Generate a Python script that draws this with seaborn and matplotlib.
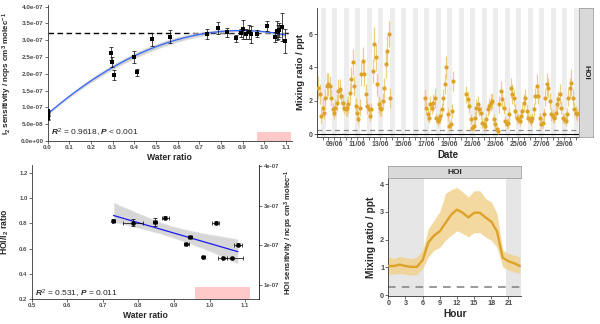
import numpy as np
import pandas as pd
import matplotlib
matplotlib.use("Agg")
import matplotlib.pyplot as plt
import matplotlib.dates as mdates
from matplotlib.ticker import FuncFormatter, MultipleLocator
from matplotlib.patches import Rectangle
import seaborn as sns

# ---------------- data ----------------
# (a) I2 sensitivity vs water ratio (units: ncps cm3 molec-1)
i2_water = [0.0, 0.0, 0.002, 0.0, 0.003, 0.292, 0.298, 0.305, 0.40, 0.414,
            0.48, 0.566, 0.737, 0.788, 0.83, 0.868, 0.892, 0.90, 0.918, 0.93,
            0.937, 0.965, 1.014, 1.05, 1.058, 1.065, 1.07, 1.083, 1.097]
i2_sens = [0.88, 0.84, 0.80, 0.72, 0.69, 2.61, 2.34, 1.97, 2.51, 2.05,
           3.03, 3.11, 3.19, 3.36, 3.24, 3.06, 3.23, 3.33, 3.20, 3.25,
           3.18, 3.20, 3.43, 3.10, 3.28, 3.24, 3.30, 3.40, 2.98]  # x 1e-7
i2_err = [0.05, 0.05, 0.05, 0.05, 0.05, 0.20, 0.15, 0.15, 0.18, 0.10,
          0.20, 0.20, 0.15, 0.18, 0.13, 0.10, 0.12, 0.28, 0.15, 0.20,
          0.25, 0.10, 0.15, 0.15, 0.28, 0.20, 0.20, 0.42, 0.35]  # x 1e-7
i2_plateau = 3.23e-7

# (c) HOI/I2 ratio vs water ratio
hoi_water = [0.73, 0.785, 0.846, 0.875, 0.935, 0.946, 0.982, 1.017, 1.037, 1.064, 1.08]
hoi_ratio = [0.82, 0.805, 0.81, 0.845, 0.637, 0.692, 0.532, 0.805, 0.524, 0.524, 0.631]
hoi_xerr = [0.004, 0.028, 0.006, 0.01, 0.008, 0.006, 0.004, 0.01, 0.012, 0.03, 0.01]
hoi_yerr = [0.012, 0.025, 0.03, 0.012, 0.01, 0.01, 0.008, 0.01, 0.008, 0.008, 0.012]

# (b) HOI time series, 3-hourly, three measurement periods
seg1_start = "2018-06-07 15:00"
seg1_hoi = [2.8, 2.4, 1.1,
            1.6, 1.3, 2.2, 2.9, 3.0, 2.9, 2.2, 1.5,
            1.3, 1.6, 1.9, 2.6, 2.7, 2.3, 1.9, 1.6,
            1.5, 1.6, 1.8, 2.5, 3.3, 4.3, 2.9, 1.7,
            1.3, 0.9, 1.6, 3.6, 4.4, 3.6, 2.4, 1.7,
            1.5, 1.1, 1.5, 3.8, 5.4, 4.6, 3.0, 1.8,
            1.6, 1.5, 2.0, 2.8, 4.2, 5.0, 6.0, 2.2]
seg1_err = [0.7, 0.6, 0.4,
            0.5, 0.4, 0.5, 0.8, 0.7, 0.6, 0.5, 0.4,
            0.4, 0.5, 0.5, 0.7, 0.6, 0.5, 0.5, 0.4,
            0.4, 0.5, 0.5, 0.6, 0.7, 0.8, 0.6, 0.5,
            0.4, 0.3, 0.5, 0.7, 0.8, 0.7, 0.6, 0.5,
            0.4, 0.3, 0.4, 0.7, 1.0, 0.8, 0.7, 0.5,
            0.5, 0.4, 0.5, 0.6, 0.8, 0.9, 0.8, 0.6]
seg2_start = "2018-06-16 21:00"
seg2_hoi = [2.2,
            1.6, 1.2, 1.0, 1.8, 1.6, 1.9, 2.2, 1.0,
            0.8, 0.9, 1.1, 1.5, 2.2, 3.0, 4.0, 1.2,
            0.5, 0.6, 1.4, 3.2]
seg2_err = [0.5,
            0.4, 0.4, 0.3, 0.5, 0.4, 0.5, 0.6, 0.3,
            0.3, 0.3, 0.4, 0.4, 0.5, 0.6, 0.7, 0.4,
            0.3, 0.3, 0.4, 0.6]
seg3_start = "2018-06-20 12:00"
seg3_hoi = [2.4, 2.1, 1.7, 0.9,
            0.4, 0.5, 1.0, 1.6, 1.8, 1.5, 1.3, 0.7,
            0.6, 0.5, 0.9, 1.5, 1.7, 1.9, 2.0, 0.9,
            0.6, 0.3, 0.2, 1.8, 2.6, 2.1, 1.6, 0.8,
            0.6, 0.7, 1.2, 2.8, 2.4, 2.2, 1.4, 1.0,
            0.9, 0.8, 1.1, 1.4, 1.9, 2.2, 1.4, 1.0,
            0.9, 0.8, 1.0, 1.5, 2.3, 2.9, 2.3, 1.0,
            0.6, 0.7, 1.2, 2.2, 3.0, 2.8, 2.0, 1.2,
            1.1, 1.0, 1.3, 1.8, 2.1, 2.4, 1.6, 1.0,
            0.9, 0.8, 1.2, 2.2, 2.8, 3.1, 2.2, 1.5,
            1.3, 1.2, 1.3]
seg3_err = [0.5, 0.5, 0.4, 0.3,
            0.2, 0.3, 0.4, 0.5, 0.5, 0.4, 0.4, 0.3,
            0.3, 0.3, 0.3, 0.4, 0.5, 0.5, 0.5, 0.3,
            0.3, 0.2, 0.2, 0.5, 0.6, 0.5, 0.4, 0.3,
            0.3, 0.3, 0.4, 0.6, 0.6, 0.5, 0.4, 0.3,
            0.3, 0.3, 0.4, 0.4, 0.5, 0.5, 0.4, 0.3,
            0.3, 0.3, 0.3, 0.4, 0.5, 0.7, 0.5, 0.3,
            0.3, 0.3, 0.4, 0.5, 0.7, 0.6, 0.5, 0.4,
            0.4, 0.3, 0.4, 0.5, 0.5, 0.6, 0.4, 0.3,
            0.3, 0.3, 0.4, 0.5, 0.6, 0.8, 0.5, 0.4,
            0.4, 0.4, 0.4]
hoi_lod = 0.28

# (d) HOI diurnal profile
hours = list(range(24))
diurnal_mean = [1.05, 1.05, 1.10, 1.05, 1.02, 1.02, 1.26, 1.90, 2.15, 2.30, 2.60, 2.90,
                3.08, 2.97, 2.80, 2.97, 2.97, 2.80, 2.65, 2.30, 1.35, 1.22, 1.15, 1.05]
diurnal_upper = [1.38, 1.32, 1.40, 1.36, 1.32, 1.38, 1.62, 2.40, 2.70, 3.00, 3.66, 3.80,
                 3.88, 3.72, 3.54, 3.76, 3.76, 3.48, 3.36, 2.94, 1.62, 1.50, 1.44, 1.38]
diurnal_lower = [0.76, 0.76, 0.78, 0.76, 0.72, 0.74, 0.96, 1.38, 1.62, 1.72, 1.98, 2.16,
                 2.32, 2.22, 2.10, 2.25, 2.25, 2.10, 1.98, 1.72, 1.02, 0.90, 0.84, 0.78]

# ---------------- style ----------------
sns.set_style("ticks")
plt.rcParams["font.family"] = ["Liberation Sans", "DejaVu Sans"]
plt.rcParams["font.weight"] = "bold"
plt.rcParams["axes.labelweight"] = "bold"
plt.rcParams["mathtext.fontset"] = "custom"
plt.rcParams["mathtext.rm"] = "Liberation Sans"
plt.rcParams["mathtext.it"] = "Liberation Sans:italic"
plt.rcParams["mathtext.bf"] = "Liberation Sans:bold"
plt.rcParams["mathtext.default"] = "regular"

gold = "#DDA22A"
gold_light = "#EEC876"
band_gold = "#F1D28F"
pink = "#FFC9C9"
tick_col = "#4D4D4D"
line_col = "#333333"

fig = plt.figure(figsize=(6.0, 3.24), dpi=100)
W, H = 600.0, 324.0


def px_axes(x0, y0, x1, y1):
    # pixel box (top-left origin) to figure axes
    return fig.add_axes([x0 / W, 1 - y1 / H, (x1 - x0) / W, (y1 - y0) / H])


def style_ax(ax, size):
    ax.tick_params(direction="out", length=2, width=0.5, color=line_col,
                   labelsize=size, labelcolor=tick_col, pad=1)
    for s in ax.spines.values():
        s.set_linewidth(0.6)
        s.set_color(line_col)


# ---------------- (a) ----------------
axa = px_axes(47.5, 5, 292, 141)
sens = np.array(i2_sens) * 1e-7
errs = np.array(i2_err) * 1e-7
axa.add_patch(Rectangle((0.965, 0), 1.122 - 0.965, 0.28e-7, color=pink, lw=0, zorder=0))
axa.axhline(i2_plateau, color="black", lw=1.0, ls=(0, (4, 2.5)), zorder=1)
sns.regplot(x=np.array(i2_water), y=sens, order=2, scatter=False, ci=68, seed=3,
            color="#3366FF", line_kws={"lw": 0.9}, ax=axa)
for c in axa.collections:
    c.set_facecolor("#999999")
    c.set_alpha(0.45)
axa.errorbar(i2_water, sens, yerr=errs, fmt="none", ecolor="black", elinewidth=0.5,
             capsize=1.2, capthick=0.5, zorder=3)
sns.scatterplot(x=i2_water, y=sens, marker="s", s=5, color="black", linewidth=0,
                ax=axa, zorder=4)
axa.set_xlim(0, 1.128)
axa.set_ylim(0, 4.05e-7)
axa.xaxis.set_major_locator(MultipleLocator(0.1))
axa.yaxis.set_major_locator(MultipleLocator(0.5e-7))
axa.xaxis.set_major_formatter(FuncFormatter(lambda v, p: f"{v:.1f}"))
axa.yaxis.set_major_formatter(FuncFormatter(lambda v, p: f"{v:.1e}"))
sns.despine(ax=axa)
style_ax(axa, 4.6)
axa.set_xlabel("Water ratio", fontsize=6.2)
axa.set_ylabel("I$_2$ sensitivity / ncps cm$^3$ molec$^{-1}$", fontsize=5.8)
axa.xaxis.set_label_coords(0.5, -0.088)
axa.yaxis.set_label_coords(-0.135, 0.5)
axa.text(0.014, 0.25e-7, r"$\mathit{R}^2$ = 0.9618, $\mathit{P}$ < 0.001",
         fontsize=6, fontweight="normal", va="center", ha="left")

# ---------------- (b) ----------------
axb = px_axes(317, 8, 579, 137)
frames = []
for start, vals, er in [(seg1_start, seg1_hoi, seg1_err),
                        (seg2_start, seg2_hoi, seg2_err),
                        (seg3_start, seg3_hoi, seg3_err)]:
    t = pd.date_range(start, periods=len(vals), freq="3h")
    frames.append(pd.DataFrame({"time": t, "hoi": vals, "err": er}))
ts = pd.concat(frames, ignore_index=True)

for d in pd.date_range("2018-06-07", "2018-07-01", freq="D"):
    axb.axvspan(d - pd.Timedelta(hours=3.5), d + pd.Timedelta(hours=6.25),
                color="#EDEDED", lw=0, zorder=0)
axb.axhline(0, color="black", lw=0.8, zorder=1)
axb.axhline(hoi_lod, color="#8C8C8C", lw=0.9, ls=(0, (4, 3)), zorder=1)
axb.errorbar(ts["time"], ts["hoi"], yerr=ts["err"], fmt="none", ecolor=gold_light,
             elinewidth=0.9, alpha=0.9, zorder=2)
sns.scatterplot(data=ts, x="time", y="hoi", s=9, color=gold, linewidth=0, ax=axb, zorder=3)
axb.set_xlim(pd.Timestamp("2018-06-07 12:30"), pd.Timestamp("2018-06-30 07:00"))
axb.set_ylim(-0.16, 7.56)
axb.yaxis.set_major_locator(MultipleLocator(2))
axb.xaxis.set_major_locator(mdates.DayLocator(bymonthday=list(range(9, 30, 2))))
axb.xaxis.set_minor_locator(mdates.HourLocator(byhour=[0, 12]))
axb.xaxis.set_major_formatter(mdates.DateFormatter("%d/%m"))
sns.despine(ax=axb)
style_ax(axb, 5)
axb.tick_params(axis="x", which="minor", length=2, width=0.5, color=line_col)
axb.set_xlabel("Date", fontsize=7)
axb.set_ylabel("Mixing ratio / ppt", fontsize=6.8)
axb.xaxis.set_label_coords(0.5, -0.10)
axb.yaxis.set_label_coords(-0.046, 0.5)

stb = px_axes(579.3, 8.3, 592.7, 136.7)
stb.set_facecolor("#D9D9D9")
stb.set_xticks([])
stb.set_yticks([])
for s in stb.spines.values():
    s.set_color("#A0A0A0")
    s.set_linewidth(0.6)
stb.text(0.5, 0.5, "HOI", rotation=-90, ha="center", va="center", fontsize=6,
         transform=stb.transAxes)

# ---------------- (c) ----------------
axc = px_axes(31.7, 165, 259.3, 299.3)
axc.add_patch(Rectangle((0.96, 0.2), 1.115 - 0.96, 0.1, color=pink, lw=0, zorder=0))
sns.regplot(x=np.array(hoi_water), y=np.array(hoi_ratio), scatter=False, ci=95, seed=7,
            color="#1A1AF0", line_kws={"lw": 0.9}, ax=axc)
for c in axc.collections:
    c.set_facecolor("#B0B0B0")
    c.set_alpha(0.5)
axc.errorbar(hoi_water, hoi_ratio, xerr=hoi_xerr, yerr=hoi_yerr, fmt="none",
             ecolor="black", elinewidth=0.5, capsize=1.2, capthick=0.5, zorder=3)
sns.scatterplot(x=hoi_water, y=hoi_ratio, s=11, color="black", linewidth=0, ax=axc, zorder=4)
axc.set_xlim(0.5, 1.14)
axc.set_ylim(0.2, 1.26)
axc.xaxis.set_major_locator(MultipleLocator(0.1))
axc.yaxis.set_major_locator(MultipleLocator(0.2))
axc.xaxis.set_major_formatter(FuncFormatter(lambda v, p: f"{v:.1f}"))
axc.yaxis.set_major_formatter(FuncFormatter(lambda v, p: f"{v:.1f}"))
axc.spines["top"].set_visible(False)
style_ax(axc, 4.3)
axc.set_xlabel("Water ratio", fontsize=6.2)
axc.set_ylabel("HOI/I$_2$ ratio", fontsize=6.2)
axc.xaxis.set_label_coords(0.5, -0.087)
axc.yaxis.set_label_coords(-0.089, 0.5)
axc.text(0.509, 0.24, r"$\mathit{R}^2$ = 0.531, $\mathit{P}$ = 0.011",
         fontsize=6, fontweight="normal", va="center", ha="left")
sec = axc.secondary_yaxis("right", functions=(lambda v: v * 3.2e-7, lambda v: v / 3.2e-7))
sec.set_yticks([1e-7, 2e-7, 3e-7, 4e-7])
sec.yaxis.set_major_formatter(FuncFormatter(lambda v, p: f"{v:.0e}"))
style_ax(sec, 4.3)
sec.set_ylabel("HOI sensitivity / ncps cm$^3$ molec$^{-1}$", fontsize=5.5,
               rotation=90, labelpad=3)

# ---------------- (d) ----------------
axd = px_axes(388.3, 178, 521, 296)
axd.axvspan(0, 6.3, color="#E6E6E6", lw=0, zorder=0)
axd.axvspan(20.6, 23.3, color="#E6E6E6", lw=0, zorder=0)
axd.axhline(hoi_lod, color="#7F7F7F", lw=1.1, ls=(0, (5, 4)), zorder=1)
axd.fill_between(hours, diurnal_lower, diurnal_upper, color=band_gold, alpha=0.85,
                 lw=0, zorder=2)
sns.lineplot(x=hours, y=diurnal_mean, color=gold, lw=1.7, ax=axd, zorder=3)
axd.set_xlim(0, 23.2)
axd.set_ylim(-0.03, 4.22)
axd.xaxis.set_major_locator(MultipleLocator(3))
axd.yaxis.set_major_locator(MultipleLocator(1))
sns.despine(ax=axd)
style_ax(axd, 5.3)
axd.set_xlabel("Hour", fontsize=7.3)
axd.set_ylabel("Mixing ratio / ppt", fontsize=7.3)
axd.xaxis.set_label_coords(0.5, -0.11)
axd.yaxis.set_label_coords(-0.089, 0.5)

std = px_axes(388.3, 166, 521, 178)
std.set_facecolor("#D9D9D9")
std.set_xticks([])
std.set_yticks([])
for s in std.spines.values():
    s.set_color("#A0A0A0")
    s.set_linewidth(0.6)
std.text(0.5, 0.5, "HOI", ha="center", va="center", fontsize=6, transform=std.transAxes)

fig.savefig("out.png", dpi=100)
